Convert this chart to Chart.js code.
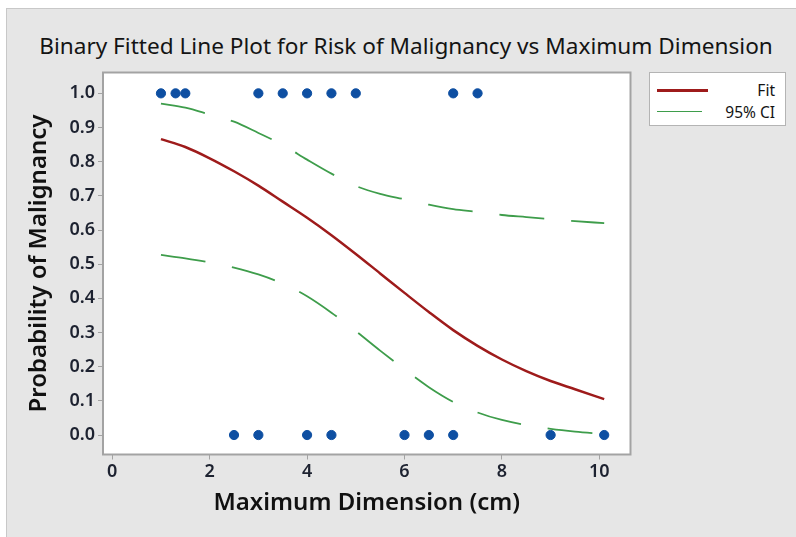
<!DOCTYPE html>
<html>
<head>
<meta charset="utf-8">
<script src="https://cdn.jsdelivr.net/npm/chart.js@4.4.1/dist/chart.umd.min.js"></script>
<style>
    html, body { margin: 0; padding: 0; background: #fff; }
    body { width: 796px; height: 537px; position: relative; overflow: hidden; font-family: 'Noto Sans', sans-serif; }
    .panel { position: absolute; left: 6px; top: 8px; right: 0; bottom: 0; background: #e6e6e6; border-left: 1px solid #c8c8c8; border-top: 1px solid #c8c8c8; }
    #chart { position: absolute; left: 0; top: 0; }
    .title { position: absolute; left: 0; top: 30px; width: 812px; text-align: center; font-size: 22.6px; color: #141414; white-space: nowrap; }
    .legend { position: absolute; left: 649px; top: 72px; width: 137px; height: 54px; background: #fff; border: 1px solid #b4b4b4; box-sizing: border-box; }
    .legend .row { position: absolute; left: 0; right: 0; height: 20px; }
    .legend .swatch { position: absolute; left: 7px; top: 9px; }
    .legend .label { position: absolute; right: 10px; top: 0; font-size: 15.5px; line-height: 20px; color: #141414; }
</style>
</head>
<body>
<div class="panel"></div>
<div class="title">Binary Fitted Line Plot for Risk of Malignancy vs Maximum Dimension</div>
<canvas id="chart" width="796" height="537"></canvas>
<div class="legend" id="legend"></div>
<script>
// observed responses (x = maximum dimension, cm)
const malignantX = [1, 1.3, 1.5, 3, 3.5, 4, 4.5, 5, 7, 7.5];
const benignX = [2.5, 3, 4, 4.5, 6, 6.5, 7, 9, 10.1];

// fitted curve and 95% CI
const curveX = [1, 1.5, 2, 2.5, 3, 3.5, 4, 4.5, 5, 5.5, 6, 6.5, 7, 7.5, 8, 8.5, 9, 9.5, 10.1];
const fitP = [0.866, 0.843, 0.81, 0.772, 0.73, 0.683, 0.636, 0.585, 0.53, 0.473, 0.416, 0.36, 0.307, 0.261, 0.221, 0.187, 0.158, 0.134, 0.105];
const ciUpper = [0.970, 0.958, 0.938, 0.917, 0.884, 0.849, 0.806, 0.765, 0.729, 0.706, 0.69, 0.674, 0.661, 0.653, 0.644, 0.638, 0.632, 0.626, 0.620];
const ciLower = [0.527, 0.517, 0.505, 0.49, 0.47, 0.443, 0.406, 0.358, 0.304, 0.247, 0.192, 0.14, 0.097, 0.066, 0.044, 0.029, 0.018, 0.01, 0.003];

const xTicks = [0, 2, 4, 6, 8, 10];
const yTicks = [0, 0.1, 0.2, 0.3, 0.4, 0.5, 0.6, 0.7, 0.8, 0.9, 1.0];

const FIT_COLOR = '#9e1b1b';
const CI_COLOR = '#3e9d4b';
const DOT_COLOR = '#0e4fa2';
const AXIS_GRAY = '#a3a3a3';

const pts = (xs, ys) => xs.map((x, i) => ({ x, y: ys[i] }));

// white plot area with a full box round it
const plotBox = {
    id: 'plotBox',
    beforeDraw(chart) {
        const a = chart.chartArea;
        const ctx = chart.ctx;
        ctx.save();
        ctx.fillStyle = '#fff';
        ctx.fillRect(a.left, a.top, a.right - a.left, a.bottom - a.top);
        ctx.restore();
    },
    beforeDatasetsDraw(chart) {
        const a = chart.chartArea;
        const ctx = chart.ctx;
        ctx.save();
        ctx.strokeStyle = AXIS_GRAY;
        ctx.lineWidth = 2;
        ctx.strokeRect(a.left, a.top, a.right - a.left, a.bottom - a.top);
        ctx.restore();
    }
};

const tickFont = { family: "'Noto Sans', sans-serif", size: 18, weight: '600' };
const titleFont = { family: "'Noto Sans', sans-serif", size: 24, weight: '600' };

new Chart(document.getElementById('chart'), {
    type: 'scatter',
    data: {
        datasets: [
            {
                label: 'Observed', data: [...malignantX.map(x => ({ x, y: 1 })), ...benignX.map(x => ({ x, y: 0 }))],
                backgroundColor: DOT_COLOR, borderColor: DOT_COLOR, pointRadius: 4.6, pointHoverRadius: 4.6, order: 0
            },
            {
                label: 'Fit', data: pts(curveX, fitP), showLine: true, borderColor: FIT_COLOR,
                borderWidth: 2.5, pointRadius: 0, cubicInterpolationMode: 'monotone', order: 1
            },
            {
                label: '95% CI', data: pts(curveX, ciUpper), showLine: true, borderColor: CI_COLOR,
                borderWidth: 1.8, borderDash: [45, 27], pointRadius: 0, cubicInterpolationMode: 'monotone', order: 2
            },
            {
                label: '95% CI lower', data: pts(curveX, ciLower), showLine: true, borderColor: CI_COLOR,
                borderWidth: 1.8, borderDash: [45, 27], pointRadius: 0, cubicInterpolationMode: 'monotone', order: 2
            }
        ]
    },
    options: {
        responsive: false,
        animation: false,
        devicePixelRatio: 1,
        layout: { padding: { left: 0, top: 72.5, right: 165.5, bottom: 0 } },
        plugins: { legend: { display: false }, tooltip: { enabled: false } },
        scales: {
            x: {
                type: 'linear', min: -0.19, max: 10.64,
                afterBuildTicks: s => { s.ticks = xTicks.map(v => ({ value: v })); },
                afterFit: s => { s.height = 82.5; },
                ticks: { font: tickFont, color: '#1d2230', padding: 2, maxRotation: 0 },
                grid: { drawOnChartArea: false, drawTicks: true, tickLength: 5, color: AXIS_GRAY },
                border: { display: false },
                title: { display: true, text: 'Maximum Dimension (cm)', font: titleFont, color: '#111', padding: { top: 0, bottom: 19 } }
            },
            y: {
                type: 'linear', min: -0.057, max: 1.061,
                afterBuildTicks: s => { s.ticks = yTicks.map(v => ({ value: v })); },
                afterFit: s => { s.width = 103; },
                ticks: { font: tickFont, color: '#1d2230', padding: 3, callback: v => v.toFixed(1) },
                grid: { drawOnChartArea: false, drawTicks: true, tickLength: 5, color: AXIS_GRAY },
                border: { display: false },
                title: { display: true, text: 'Probability of Malignancy', font: titleFont, color: '#111', padding: { top: 25, bottom: 0 } }
            }
        }
    },
    plugins: [plotBox]
});

// legend box
const legendItems = [
    { text: 'Fit', color: FIT_COLOR, width: 51, weight: 3, top: 7 },
    { text: '95% CI', color: CI_COLOR, width: 45, weight: 1.8, top: 29 }
];
const legend = document.getElementById('legend');
legendItems.forEach(item => {
    const row = document.createElement('div');
    row.className = 'row';
    row.style.top = item.top + 'px';
    row.innerHTML = `<div class="swatch" style="width:${item.width}px;border-top:${item.weight}px solid ${item.color}"></div>` +
        `<div class="label">${item.text}</div>`;
    legend.appendChild(row);
});
</script>
</body>
</html>
